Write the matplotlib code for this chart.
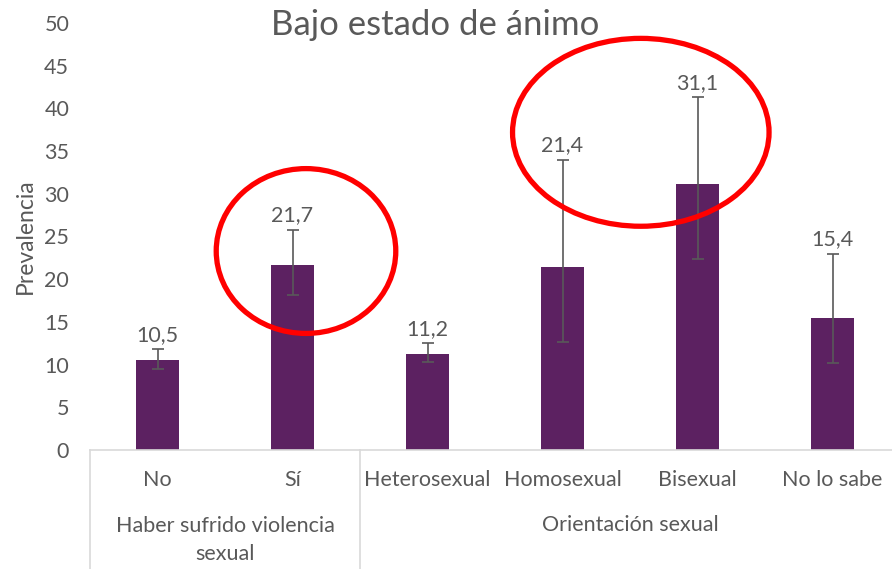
import matplotlib.pyplot as plt
from matplotlib.patches import Ellipse
import numpy as np

plt.rcParams['font.family'] = ['Lato', 'DejaVu Sans']

# data
categories = ['No', 'Sí', 'Heterosexual', 'Homosexual', 'Bisexual', 'No lo sabe']
values = [10.5, 21.7, 11.2, 21.4, 31.1, 15.4]
ci_low = [9.5, 18.1, 10.3, 12.7, 22.4, 10.2]
ci_high = [11.8, 25.8, 12.5, 34.0, 41.3, 23.0]
labels = ['10,5', '21,7', '11,2', '21,4', '31,1', '15,4']
groups = ['Haber sufrido violencia\nsexual', 'Orientación sexual']
group_sizes = [2, 4]

txt = '#595959'
fs = 15.5
W, H = 892, 569
fig = plt.figure(figsize=(W / 100, H / 100), dpi=100)
ax = fig.add_axes([90 / W, 1 - 450 / H, 810 / W, 427 / H])

x = np.arange(len(categories))
vals = np.array(values)
yerr = [vals - np.array(ci_low), np.array(ci_high) - vals]
ax.bar(x, vals, width=0.32, color='#5C2161', zorder=2)
ax.errorbar(x, vals, yerr=yerr, fmt='none', ecolor=txt, elinewidth=1.2,
            capsize=4.5, capthick=1.2, zorder=3)
for xi, hi, lab in zip(x, ci_high, labels):
    ax.annotate(lab, (xi, hi), xytext=(0, 3), textcoords='offset points',
                ha='center', va='bottom', fontsize=fs, color=txt)

ax.set_xlim(-0.5, len(categories) - 0.5)
ax.set_ylim(0, 50)
ax.set_yticks(np.arange(0, 51, 5))
ax.tick_params(axis='y', length=0, labelsize=fs, labelcolor=txt, pad=15)
ax.set_xticks([])
for s in ['top', 'right', 'left']:
    ax.spines[s].set_visible(False)
ax.spines['bottom'].set_color('#D9D9D9')
ax.spines['bottom'].set_linewidth(1.2)

ax.set_ylabel('Prevalencia', fontsize=fs + 1, color=txt, labelpad=6)
fig.text(435 / W, 1 - 25 / H, 'Bajo estado de ánimo', ha='center', va='center',
         fontsize=25, color=txt)

# category labels and grouped axis
trans = ax.get_xaxis_transform()
for xi, c in zip(x, categories):
    ax.text(xi, -30 / 427, c, transform=trans, ha='center', va='center',
            fontsize=fs, color=txt)
start = -0.5
bounds = [start]
for g, n in zip(groups, group_sizes):
    mid = start + n / 2
    ax.text(mid, -75 / 427 if '\n' not in g else -90 / 427, g, transform=trans,
            ha='center', va='center', fontsize=fs, color=txt, linespacing=1.45)
    start += n
    bounds.append(start)
for b in bounds[:-1]:
    ax.plot([b, b], [0, -130 / 427], transform=trans, color='#D9D9D9',
            lw=1.2, clip_on=False)

# red highlight ellipses
ax.add_patch(Ellipse((1.10, 23.3), 1.33, 19.3, fill=False, edgecolor='#FF0000',
                     lw=3.8, clip_on=False, zorder=4))
ax.add_patch(Ellipse((3.58, 37.2), 1.90, 22.0, fill=False, edgecolor='#FF0000',
                     lw=3.8, clip_on=False, zorder=4))

fig.savefig('out.png', dpi=100)
